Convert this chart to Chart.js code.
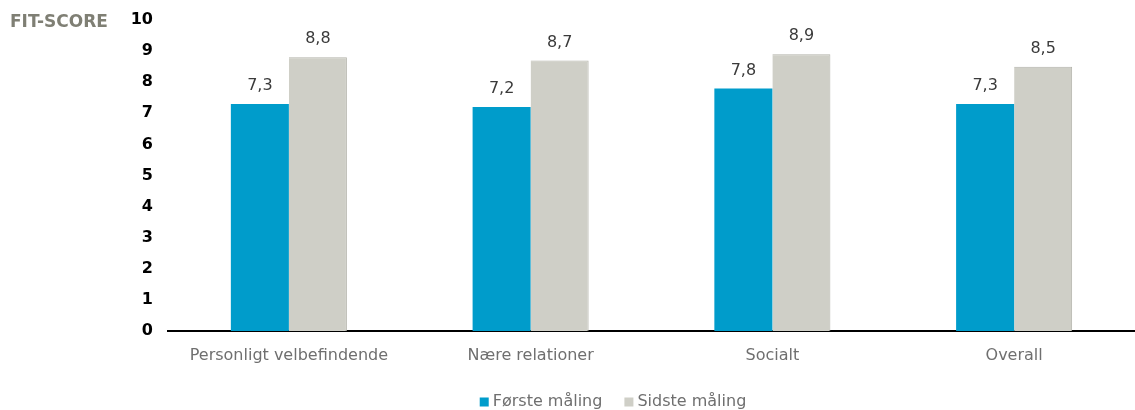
<!DOCTYPE html>
<html>
<head>
<meta charset="utf-8">
<script src="https://cdn.jsdelivr.net/npm/chart.js@4"></script>
<style>
  html, body { margin: 0; padding: 0; background: #fff; }
  #wrap { width: 1135px; height: 410px; position: relative; }
</style>
</head>
<body>
<div id="wrap"><canvas id="canvas"></canvas></div>
<script>
// Kategorier og målinger
const kategorier = ['Personligt velbefindende', 'Nære relationer', 'Socialt', 'Overall'];
const foersteMaaling = [7.3, 7.2, 7.8, 7.3];
const sidsteMaaling = [8.8, 8.7, 8.9, 8.5];
const serieNavne = ['Første måling', 'Sidste måling'];
const yTicks = [0, 1, 2, 3, 4, 5, 6, 7, 8, 9, 10];

const FONT = "'DejaVu Sans', Verdana, sans-serif";

// Værdier over søjlerne, med komma som decimaltegn
const vaerdiLabels = {
    id: 'vaerdiLabels',
    afterDatasetsDraw(chart) {
        const ctx = chart.ctx;
        ctx.save();
        ctx.font = '16px ' + FONT;
        ctx.fillStyle = '#3a3a3a';
        ctx.textAlign = 'center';
        ctx.textBaseline = 'bottom';
        chart.data.datasets.forEach((ds, di) => {
            chart.getDatasetMeta(di).data.forEach((bar, i) => {
                ctx.fillText(ds.data[i].toFixed(1).replace('.', ','), bar.x, bar.y - 10);
            });
        });
        ctx.restore();
    }
};

// Aksetitel øverst til venstre
const aksetitel = {
    id: 'aksetitel',
    afterDraw(chart) {
        const ctx = chart.ctx;
        ctx.save();
        ctx.font = 'bold 17px ' + FONT;
        ctx.fillStyle = '#7f7f74';
        ctx.textAlign = 'left';
        ctx.textBaseline = 'middle';
        ctx.fillText('FIT-SCORE', 10, 23);
        ctx.restore();
    }
};

// Egen forklaring nederst
const forklaring = {
    id: 'forklaring',
    afterDraw(chart) {
        const ctx = chart.ctx;
        const center = 613, y = 402, box = 9, gap = 4, spacing = 22;
        ctx.save();
        ctx.font = '16px ' + FONT;
        ctx.textBaseline = 'middle';
        ctx.textAlign = 'left';
        const items = chart.data.datasets.map(ds => ({
            text: ds.label,
            color: ds.backgroundColor,
            w: box + gap + ctx.measureText(ds.label).width
        }));
        const total = items.reduce((s, it) => s + it.w, 0) + spacing * (items.length - 1);
        let x = center - total / 2;
        items.forEach(it => {
            ctx.fillStyle = it.color;
            ctx.fillRect(x, y - box / 2, box, box);
            ctx.fillStyle = '#6f6f6f';
            ctx.fillText(it.text, x + box + gap, y);
            x += it.w + spacing;
        });
        ctx.restore();
    }
};

new Chart(document.querySelector('#canvas'), {
    type: 'bar',
    data: {
        labels: kategorier,
        datasets: [
            {
                label: serieNavne[0],
                data: foersteMaaling,
                backgroundColor: '#009ccb',
                borderWidth: 0,
                categoryPercentage: 0.48,
                barPercentage: 1
            },
            {
                label: serieNavne[1],
                data: sidsteMaaling,
                backgroundColor: '#cfcfc7',
                borderColor: '#b3b3aa',
                borderWidth: { top: 1, right: 1, left: 0, bottom: 0 },
                categoryPercentage: 0.48,
                barPercentage: 1
            }
        ]
    },
    options: {
        responsive: true,
        maintainAspectRatio: false,
        animation: false,
        layout: { autoPadding: false, padding: { top: 20, right: 0, left: 0, bottom: 0 } },
        plugins: {
            legend: { display: false },
            tooltip: { enabled: false }
        },
        scales: {
            x: {
                grid: { display: false, drawTicks: false },
                border: { display: true, color: '#000', width: 2 },
                ticks: {
                    color: '#6f6f6f',
                    font: { family: FONT, size: 16 },
                    padding: 15,
                    maxRotation: 0
                },
                afterFit(scale) { scale.height = 79; }
            },
            y: {
                min: 0,
                max: 10,
                afterBuildTicks(scale) { scale.ticks = yTicks.map(v => ({ value: v })); },
                grid: { display: false, drawTicks: false },
                border: { display: false },
                ticks: {
                    color: '#000',
                    font: { family: FONT, size: 16, weight: 'bold' },
                    padding: 15
                },
                afterFit(scale) {
                    // fast bredde, og ingen ekstra luft over/under aksen
                    scale.width = 168;
                    scale.paddingTop = 0;
                    scale.paddingBottom = 0;
                }
            }
        }
    },
    plugins: [vaerdiLabels, aksetitel, forklaring]
});
</script>
</body>
</html>
